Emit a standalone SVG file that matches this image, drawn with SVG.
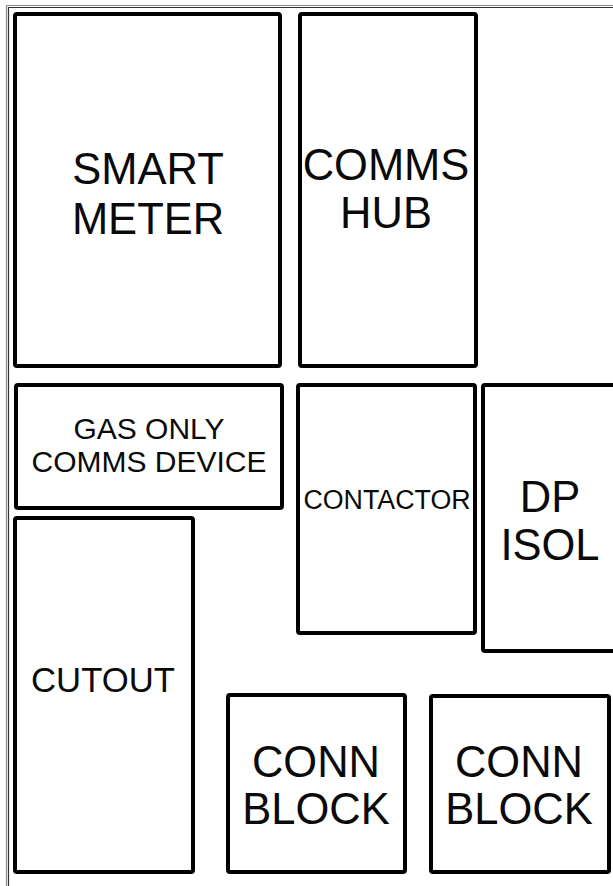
<svg xmlns="http://www.w3.org/2000/svg" width="613" height="886" viewBox="0 0 613 886">
<style>
.box{fill:#fff;stroke:#000;stroke-width:4;stroke-linejoin:round}
.t{font-family:"Liberation Sans",Arial,sans-serif;fill:#0a0a0a;text-anchor:middle}
.big{font-size:43.5px}
</style>
<rect width="613" height="886" fill="#fff"/>
<g id="frame" fill="none">
<path d="M6.5 886 V5.5 H613" stroke="#8a8a8a" stroke-width="1.2"/>
<path d="M8.5 886 V7.5 H613" stroke="#333" stroke-width="1.2"/>
</g>
<g id="connectors"></g>
<g id="smart-meter">
<rect class="box" x="15" y="14" width="265" height="352" rx="2"/>
<text class="t big" x="148" y="184">SMART</text>
<text class="t big" x="148" y="234">METER</text>
</g>
<g id="comms-hub">
<rect class="box" x="300" y="14" width="176" height="352" rx="2"/>
<text class="t big" x="386" y="180">COMMS</text>
<text class="t big" x="386" y="228">HUB</text>
</g>
<g id="gas-only-comms-device">
<rect class="box" x="16" y="385" width="266" height="123" rx="2"/>
<text class="t" font-size="30" x="149" y="439">GAS ONLY</text>
<text class="t" font-size="30" x="149" y="472">COMMS DEVICE</text>
</g>
<g id="contactor">
<rect class="box" x="298" y="385" width="177" height="248" rx="2"/>
<text class="t" font-size="26.8" x="387" y="509">CONTACTOR</text>
</g>
<g id="dp-isol">
<rect class="box" x="483" y="385" width="140" height="266" rx="2"/>
<text class="t big" x="550" y="512">DP</text>
<text class="t big" x="550" y="560">ISOL</text>
</g>
<g id="cutout">
<rect class="box" x="15" y="518" width="178" height="354" rx="2"/>
<text class="t" font-size="34.7" x="103" y="692">CUTOUT</text>
</g>
<g id="conn-block-1">
<rect class="box" x="228" y="695" width="177" height="177" rx="2"/>
<text class="t big" x="316" y="777">CONN</text>
<text class="t big" x="316" y="824">BLOCK</text>
</g>
<g id="conn-block-2">
<rect class="box" x="431" y="696" width="178" height="176" rx="2"/>
<text class="t big" x="519" y="777">CONN</text>
<text class="t big" x="519" y="824">BLOCK</text>
</g>
</svg>
